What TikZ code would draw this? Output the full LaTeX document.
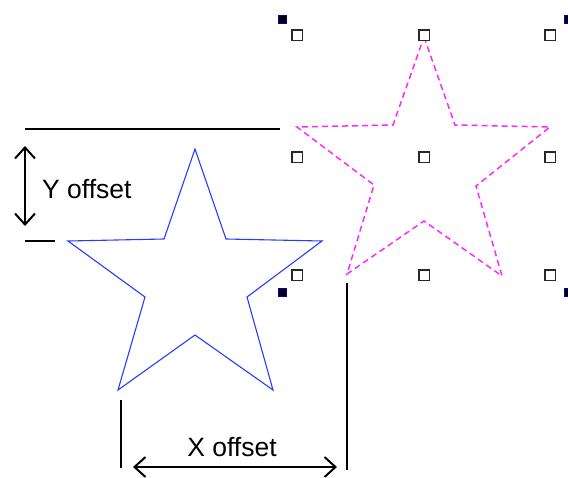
\documentclass[tikz,border=0pt]{standalone}
\usepackage{fontspec}
\setmainfont{Liberation Sans}
\usetikzlibrary{arrows.meta}
\tikzset{
  x=1pt, y=-1pt,
  dimline/.style={line width=1.4pt, black},
  dimarrow/.style={line width=2pt, black, {Straight Barb[length=11pt,width=20pt,line width=2pt]}-{Straight Barb[length=11pt,width=20pt,line width=2pt]}},
  label/.style={font=\fontsize{26.5}{30}\selectfont, inner sep=0pt},
  origstar/.style={line width=1.1pt, draw={rgb,255:red,40;green,60;blue,255}, line join=miter},
  movedstar/.style={line width=1.5pt, draw={rgb,255:red,255;green,40;blue,255}, dash pattern=on 6pt off 4pt},
  handle/.style={draw={rgb,255:red,40;green,40;blue,40}, line width=1.5pt, fill=white, minimum size=10.5pt, inner sep=0pt, shape=rectangle},
  anchorbox/.style={draw={rgb,255:red,0;green,0;blue,200}, line width=1pt, fill=black, minimum size=8pt, inner sep=0pt, shape=rectangle},
}
\begin{document}
\begin{tikzpicture}
\useasboundingbox (0,0) rectangle (568,477);

% original star
\draw[origstar] (195,149) -- (226,239) -- (322,241) -- (247,297) -- (273,390)
  -- (195,335) -- (118,390) -- (145,297) -- (68,241) -- (164,239) -- cycle;

% offset copy of the star
\draw[movedstar] (424,37) -- (455,125) -- (550,127) -- (476,186) -- (502,276)
  -- (424,221) -- (347,274) -- (374,185) -- (297,127) -- (393,125) -- cycle;

% selection handles around the copy
\foreach \nx/\hx in {l/297, c/424, r/550}
  \foreach \ny/\hy in {t/35, m/157, b/275}
    \node[handle] (h\nx\ny) at (\hx,\hy) {};
\node[anchorbox] (ktl) at (282,19) {};
\node[anchorbox] (ktr) at (568,19) {};
\node[anchorbox] (kbl) at (282,292) {};
\node[anchorbox] (kbr) at (568,292) {};

% Y offset dimension
\coordinate (ytopL) at (25,129);
\coordinate (ytopR) at (280,129);
\coordinate (ybotL) at (25,241);
\coordinate (ybotR) at (55,241);
\coordinate (yarrA) at (25,146);
\coordinate (yarrB) at (25,226);
\draw[dimline] (ytopL) -- (ytopR);
\draw[dimline] (ybotL) -- (ybotR);
\draw[dimarrow] (yarrA) -- (yarrB);
\node[label, anchor=west] (ylab) at (42,189) {Y offset};

% X offset dimension
\coordinate (xlT) at (121,400);
\coordinate (xlB) at (121,468);
\coordinate (xrT) at (347,283);
\coordinate (xrB) at (347,470);
\coordinate (xarrA) at (133,467);
\coordinate (xarrB) at (337,467);
\draw[dimline] (xlT) -- (xlB);
\draw[dimline] (xrT) -- (xrB);
\draw[dimarrow] (xarrA) -- (xarrB);
\node[label] (xlab) at (232,447) {X offset};
\end{tikzpicture}
\end{document}
